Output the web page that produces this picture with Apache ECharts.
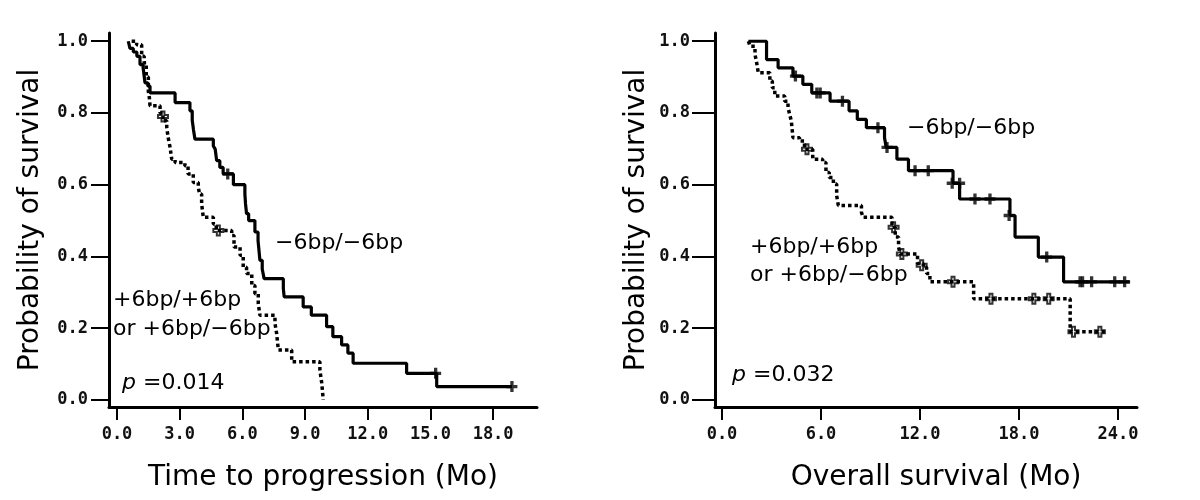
<!DOCTYPE html>
<html>
<head>
<meta charset="utf-8">
<script src="https://cdn.jsdelivr.net/npm/echarts@6/dist/echarts.min.js"></script>
<style>
html,body{margin:0;padding:0;background:#fff;}
#chart{width:1200px;height:500px;}
</style>
</head>
<body>
<div id="chart"></div>
<script>
// ---- Data ----
const yTicks = [0, 0.2, 0.4, 0.6, 0.8, 1.0];
const ttpTicks = [0, 3, 6, 9, 12, 15, 18];
const osTicks = [0, 6, 12, 18, 24];

// Time to progression: -6bp/-6bp (solid), [month, survival]
const ttpSolid = [[0.54,1.0],[0.62,0.98],[0.78,0.97],[0.95,0.958],[1.1,0.935],[1.25,0.926],[1.34,0.884],[1.48,0.875],[1.58,0.856],[2.78,0.829],[3.49,0.806],[3.6,0.78],[3.66,0.753],[3.73,0.727],[4.61,0.708],[4.7,0.699],[4.77,0.667],[4.92,0.648],[5.08,0.63],[5.57,0.60],[6.12,0.574],[6.15,0.547],[6.2,0.519],[6.3,0.5],[6.6,0.468],[6.75,0.444],[6.84,0.389],[6.95,0.365],[7.04,0.338],[7.96,0.311],[8.0,0.287],[8.91,0.259],[9.3,0.236],[10.03,0.204],[10.33,0.176],[10.75,0.153],[11.05,0.13],[11.3,0.102],[13.86,0.074],[15.3,0.037],[18.9,0.037]];
const ttpSolidCensor = [[5.3,0.63],[15.25,0.074],[18.9,0.037]];
// Time to progression: +6bp/+6bp or +6bp/-6bp (dotted)
const ttpDotted = [[0.7,1.0],[0.94,0.99],[1.18,0.958],[1.3,0.94],[1.4,0.9],[1.5,0.86],[1.55,0.842],[1.58,0.82],[2.06,0.80],[2.2,0.778],[2.38,0.759],[2.45,0.731],[2.54,0.704],[2.62,0.671],[2.78,0.662],[3.25,0.653],[3.4,0.63],[3.65,0.606],[3.89,0.593],[3.95,0.574],[4.05,0.546],[4.13,0.509],[4.61,0.49],[4.75,0.472],[5.49,0.458],[5.6,0.426],[5.89,0.403],[6.04,0.37],[6.2,0.352],[6.45,0.319],[6.6,0.296],[6.76,0.269],[6.84,0.236],[7.56,0.213],[7.64,0.185],[7.72,0.139],[8.36,0.106],[9.71,0.083],[9.8,0.046],[9.87,0.0]];
const ttpDottedCensor = [[2.2,0.79],[4.85,0.472]];

// Overall survival: -6bp/-6bp (solid)
const osSolid = [[1.6,1.0],[2.7,0.949],[3.4,0.926],[4.3,0.903],[4.9,0.88],[5.44,0.856],[6.55,0.833],[7.7,0.806],[8.2,0.782],[8.75,0.759],[9.85,0.731],[9.95,0.704],[10.6,0.671],[11.3,0.639],[14.0,0.604],[14.4,0.56],[17.45,0.514],[17.76,0.454],[19.17,0.398],[20.7,0.329],[24.7,0.329]];
const osSolidCensor = [[4.45,0.903],[5.75,0.856],[5.95,0.856],[7.3,0.833],[9.45,0.759],[10.0,0.704],[11.7,0.639],[12.5,0.639],[13.95,0.604],[14.4,0.604],[15.33,0.56],[16.24,0.56],[17.4,0.514],[19.68,0.398],[21.7,0.329],[21.85,0.329],[22.4,0.329],[23.8,0.329],[24.4,0.329]];
// Overall survival: +6bp/+6bp or +6bp/-6bp (dotted)
const osDotted = [[1.6,1.0],[1.7,0.986],[2.0,0.963],[2.1,0.94],[2.2,0.912],[2.9,0.889],[3.05,0.87],[3.2,0.847],[3.8,0.833],[4.0,0.815],[4.1,0.796],[4.2,0.778],[4.25,0.755],[4.3,0.731],[4.7,0.722],[5.0,0.699],[5.5,0.671],[6.1,0.662],[6.3,0.634],[6.5,0.62],[6.75,0.602],[6.95,0.569],[7.05,0.542],[8.45,0.523],[8.55,0.509],[10.3,0.481],[10.5,0.454],[10.7,0.426],[10.8,0.407],[11.85,0.38],[12.2,0.37],[12.4,0.352],[12.6,0.329],[15.25,0.282],[21.1,0.19],[23.2,0.19]];
const osDottedCensor = [[5.15,0.699],[10.4,0.481],[10.9,0.407],[12.1,0.375],[14.0,0.329],[16.3,0.282],[18.9,0.282],[19.8,0.282],[21.3,0.19],[22.9,0.19]];

// ---- Chart ----
const FONT = 'DejaVu Sans';
const TICKFONT = 'DejaVu Sans Mono';
const plus = 'path://M3.5,0h3v3.5h3.5v3h-3.5v3.5h-3v-3.5h-3.5v-3h3.5z';
const chart = echarts.init(document.getElementById('chart'), null, {renderer: 'canvas'});

function xAxis(idx, min, max, ticks, name, pad) {
  return {
    type: 'value', gridIndex: idx, min: min, max: max,
    name: name, nameLocation: 'middle', nameGap: 57,
    nameTextStyle: {fontFamily: FONT, fontSize: 28, color: '#000', padding: pad},
    axisLine: {show: true, onZero: false, lineStyle: {color: '#000', width: 3}},
    axisTick: {show: true, length: 13, customValues: ticks, lineStyle: {color: '#000', width: 2}},
    axisLabel: {show: true, margin: 19, customValues: ticks, formatter: v => Number(v).toFixed(1),
      fontFamily: TICKFONT, fontWeight: 'bold', fontSize: 17, color: '#111'},
    splitLine: {show: false}
  };
}
function yAxis(idx, tickLen, margin) {
  return {
    type: 'value', gridIndex: idx, min: -0.02, max: 1.023,
    name: 'Probability of survival', nameLocation: 'middle', nameGap: 64,
    nameTextStyle: {fontFamily: FONT, fontSize: 28, color: '#000'},
    axisLine: {show: true, onZero: false, lineStyle: {color: '#000', width: 3}},
    axisTick: {show: true, length: tickLen, customValues: yTicks, lineStyle: {color: '#000', width: 2}},
    axisLabel: {show: true, margin: margin, customValues: yTicks, formatter: v => Number(v).toFixed(1),
      fontFamily: TICKFONT, fontWeight: 'bold', fontSize: 17, color: '#111'},
    splitLine: {show: false}
  };
}
function curve(idx, data, dotted) {
  return {
    type: 'line', xAxisIndex: idx, yAxisIndex: idx, data: data, step: 'end',
    showSymbol: false, symbol: 'none', silent: true, animation: false,
    lineStyle: {color: '#000', width: dotted ? 3.5 : 3.2, type: dotted ? [3.5, 3] : 'solid', cap: 'butt'}
  };
}
function censor(idx, data, hollow) {
  return {
    type: 'scatter', xAxisIndex: idx, yAxisIndex: idx, data: data, symbol: plus,
    symbolSize: hollow ? 10 : 11, silent: true, animation: false,
    itemStyle: hollow ? {color: '#fff', borderColor: '#000', borderWidth: 2} : {color: '#000'}
  };
}
const annot = (x, y, text) => ({
  type: 'text', x: x, y: y,
  style: {text: text, fontFamily: FONT, fontSize: 22, fill: '#000', align: 'left', verticalAlign: 'middle',
    rich: {i: {fontFamily: FONT, fontSize: 22, fontStyle: 'italic', fill: '#000'}}}
});

chart.setOption({
  backgroundColor: '#fff',
  animation: false,
  grid: [
    {left: 109, right: 663, top: 33, bottom: 93},
    {left: 715, right: 63, top: 33, bottom: 93}
  ],
  xAxis: [
    xAxis(0, -0.383, 20.1, ttpTicks, 'Time to progression (Mo)', [0, 0, 0, 0]),
    xAxis(1, -0.424, 25.15, osTicks, 'Overall survival (Mo)', [0, 0, 0, 20])
  ],
  yAxis: [yAxis(0, 18, 21), yAxis(1, 23, 25)],
  series: [
    curve(0, ttpSolid, false), curve(0, ttpDotted, true),
    censor(0, ttpSolidCensor, false), censor(0, ttpDottedCensor, true),
    curve(1, osSolid, false), curve(1, osDotted, true),
    censor(1, osSolidCensor, false), censor(1, osDottedCensor, true)
  ],
  graphic: [
    annot(275, 243, '\u22126bp/\u22126bp'),
    annot(113, 300, '+6bp/+6bp'),
    annot(113, 329, 'or +6bp/\u22126bp'),
    annot(122, 383, '{i|p} =0.014'),
    annot(907, 128, '\u22126bp/\u22126bp'),
    annot(750, 247, '+6bp/+6bp'),
    annot(750, 275, 'or +6bp/\u22126bp'),
    annot(732, 375, '{i|p} =0.032')
  ]
});
</script>
</body>
</html>
